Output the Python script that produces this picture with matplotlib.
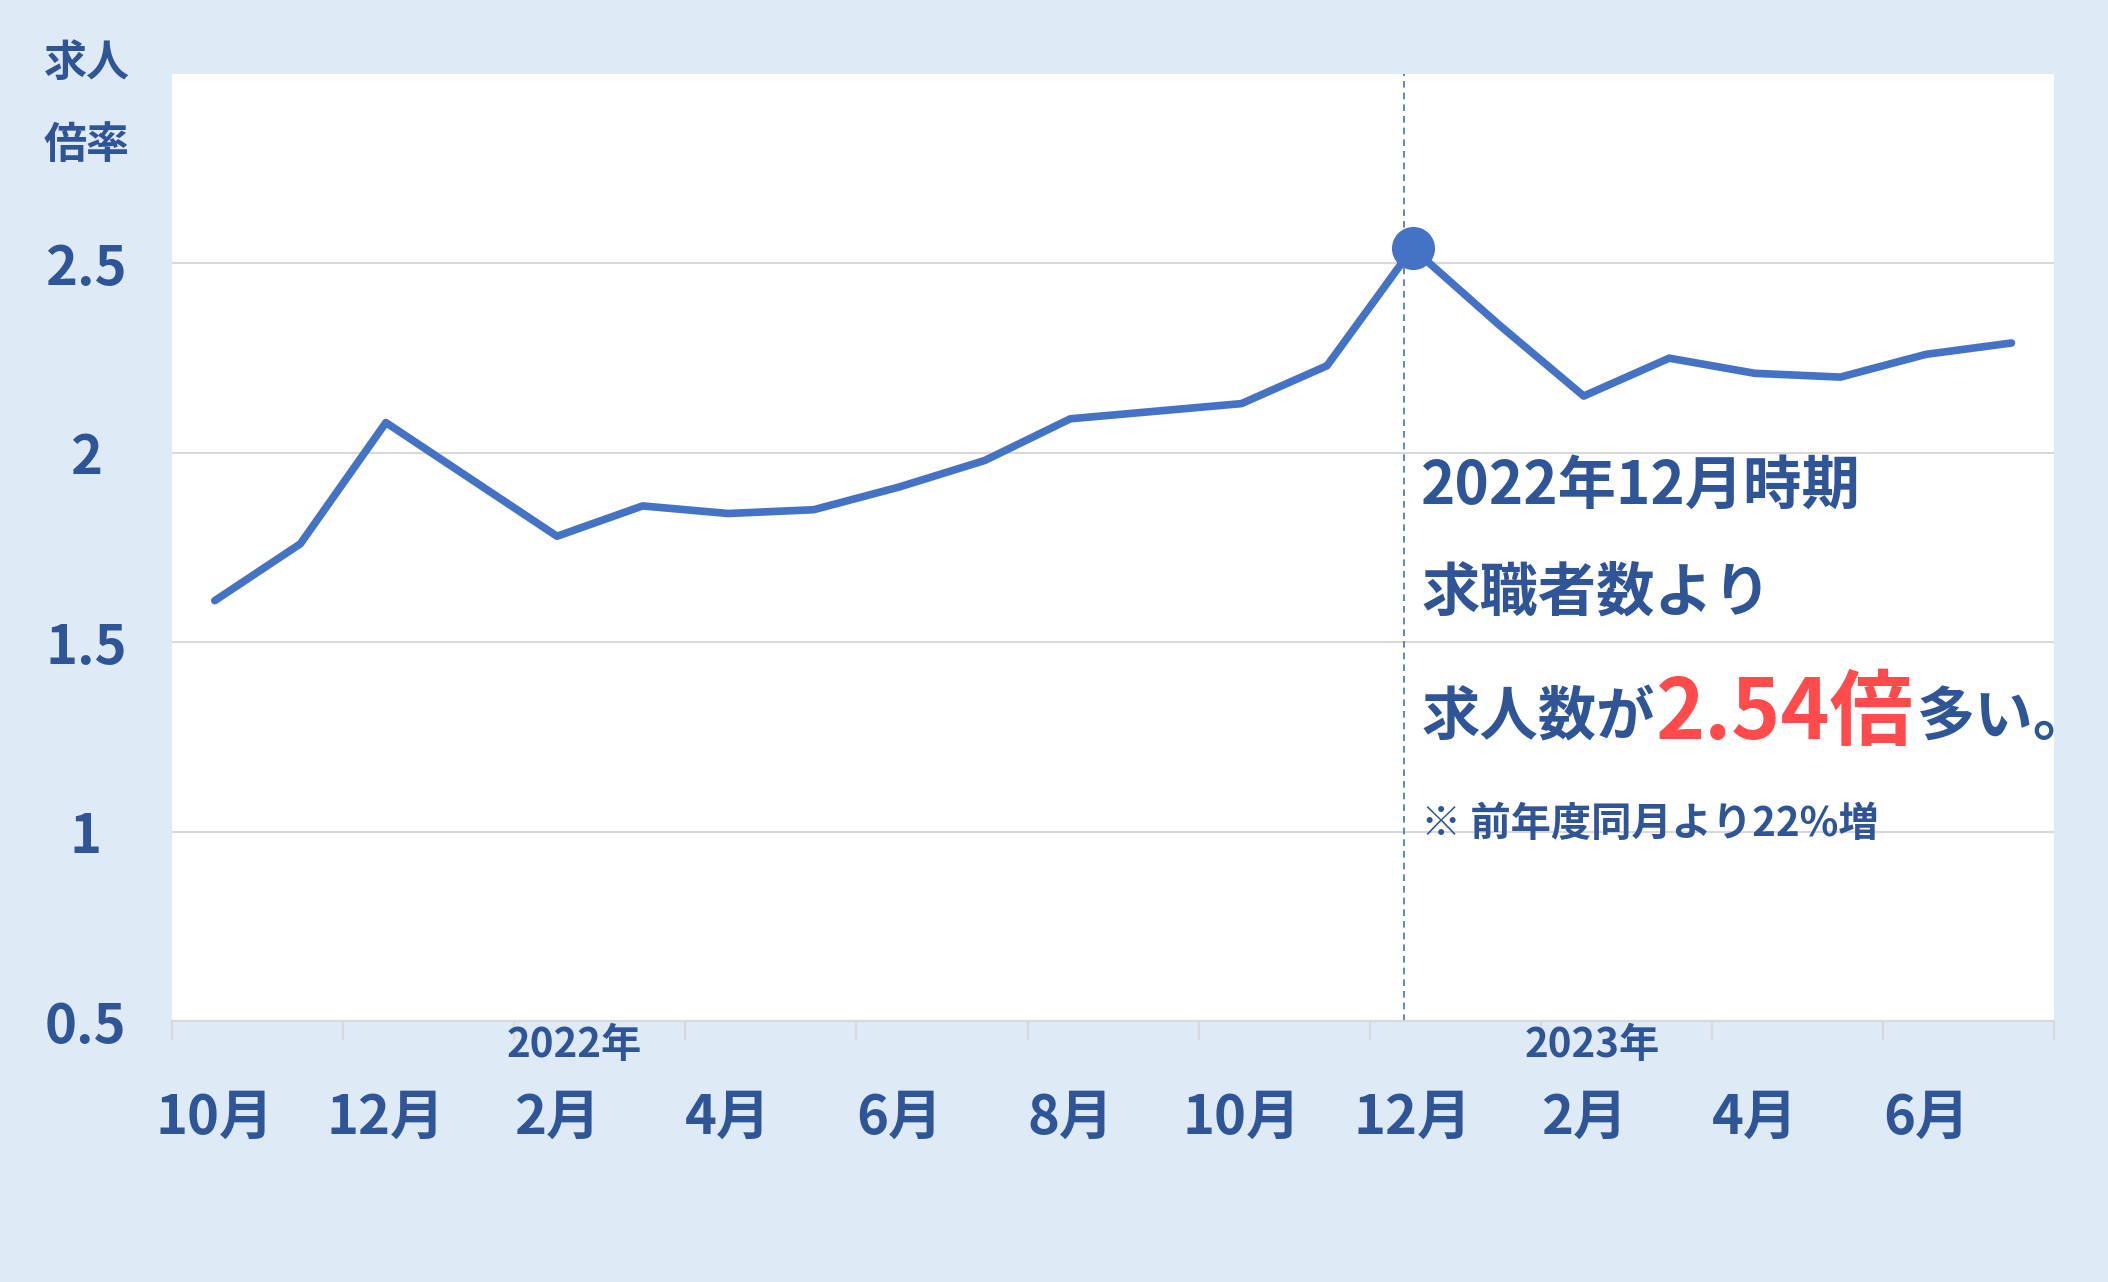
import matplotlib
matplotlib.use("Agg")
import matplotlib.pyplot as plt
import numpy as np

plt.rcParams['font.family'] = ['Noto Sans CJK JP', 'DejaVu Sans']
plt.rcParams['font.weight'] = 'bold'

months = ["10月", "11月", "12月", "1月", "2月", "3月", "4月", "5月", "6月", "7月", "8月", "9月",
          "10月", "11月", "12月", "1月", "2月", "3月", "4月", "5月", "6月", "7月"]
ratio = [1.61, 1.76, 2.08, 1.93, 1.78, 1.86, 1.84, 1.85, 1.91, 1.98, 2.09, 2.11,
         2.13, 2.23, 2.54, 2.34, 2.15, 2.25, 2.21, 2.20, 2.26, 2.29]
peak_idx = 14
yticks = [0.5, 1, 1.5, 2, 2.5]
ytick_labels = ["0.5", "1", "1.5", "2", "2.5"]

BLUE = "#4472c4"
TXT = "#2f5597"
BG = "#deeaf6"

fig = plt.figure(figsize=(21.08, 12.82), dpi=100, facecolor=BG)
ax = fig.add_axes([0.0816, 0.2034, 0.8929, 0.7389])
ax.set_facecolor("white")

x = np.arange(len(ratio))
ax.plot(x, ratio, color=BLUE, lw=5.5, solid_capstyle="round", zorder=3)
ax.plot(x[peak_idx], ratio[peak_idx], "o", color=BLUE, ms=30, zorder=4)
ax.axvline(peak_idx - 0.1, color=BLUE, lw=1.2, ls=(0, (4, 3)), zorder=2)

ax.set_xlim(-0.5, len(ratio) - 0.5)
ax.set_ylim(0.5, 3.0)
ax.set_yticks(yticks)
ax.set_yticklabels(ytick_labels, fontsize=39, color=TXT, fontweight="bold")
ax.tick_params(axis="y", length=0, pad=62)
for lbl in ax.get_yticklabels():
    lbl.set_horizontalalignment("center")
ax.grid(axis="y", color="#d9d9d9", lw=1.5)
for s in ["top", "right", "left"]:
    ax.spines[s].set_visible(False)
ax.spines["bottom"].set_color("#d9d9d9")
ax.spines["bottom"].set_linewidth(1.5)

ax.set_xticks(np.arange(-0.5, len(ratio), 2))
ax.set_xticklabels([])
ax.tick_params(axis="x", length=14, color="#d9d9d9", width=1.5)

tr = ax.get_xaxis_transform()
for i in range(0, len(ratio), 2):
    ax.text(i, -0.102, months[i], transform=tr, ha="center", va="center",
            fontsize=39, color=TXT, fontweight="bold")
ax.text(4.2, -0.026, "2022年", transform=tr, ha="center", va="center", fontsize=29, color=TXT)
ax.text(16.1, -0.026, "2023年", transform=tr, ha="center", va="center", fontsize=29, color=TXT)

fig.text(0.041, 0.951, "求人", ha="center", va="center", fontsize=31, color=TXT)
fig.text(0.041, 0.887, "倍率", ha="center", va="center", fontsize=31, color=TXT)

# annotation
ax.text(14.1, 1.91, "2022年12月時期", fontsize=42, color=TXT, va="center")
ax.text(14.1, 1.63, "求職者数より", fontsize=42, color=TXT, va="center")
t1 = ax.text(14.1, 1.30, "求人数が", fontsize=42, color=TXT, va="center")
fig.canvas.draw()
r = fig.canvas.get_renderer()
bb = t1.get_window_extent(r)
inv = ax.transData.inverted()
x1 = inv.transform((bb.x1, bb.y0))[0]
t2 = ax.text(x1, 1.31, "2.54倍", fontsize=60, color="#ff4b4b", va="center")
bb2 = t2.get_window_extent(r)
x2 = inv.transform((bb2.x1, bb2.y0))[0]
ax.text(x2 + 0.05, 1.30, "多い。", fontsize=42, color=TXT, va="center", clip_on=False)
ax.text(14.1, 1.02, "※ 前年度同月より22%増", fontsize=29, color=TXT, va="center")

fig.savefig("out.png", dpi=100, facecolor=BG)
